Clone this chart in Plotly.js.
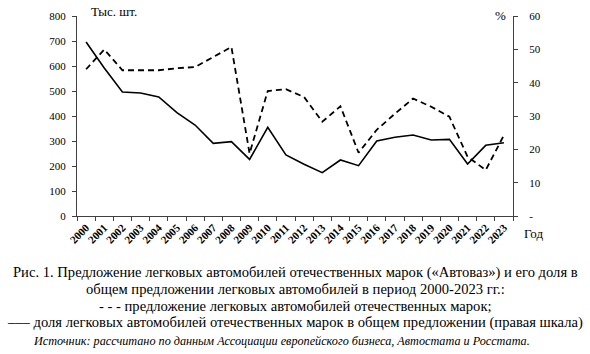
<!DOCTYPE html>
<html>
<head>
<meta charset="utf-8">
<script src="https://cdn.plot.ly/plotly-3.0.1.min.js"></script>
<style>html,body{margin:0;padding:0;background:#fff}</style>
</head>
<body>
<div id="chart"></div>
<script>
const years = ['2000','2001','2002','2003','2004','2005','2006','2007','2008','2009','2010','2011','2012','2013','2014','2015','2016','2017','2018','2019','2020','2021','2022','2023'];
// supply of domestic-brand cars, thousand units (left axis, dashed)
const supply = [587,666,583,582,583,591,596,636,676,250,500,507,476,377,439,253,345,409,470,437,397,237,184,323];
// share in total supply, % (right axis, solid)
const share = [52.2,44.4,37.2,36.9,35.7,31.0,27.3,21.8,22.3,17.0,26.6,18.3,15.5,13.0,16.8,15.1,22.5,23.6,24.3,22.8,23.0,15.6,21.2,22.0];
const leftTicks = [0,100,200,300,400,500,600,700,800];
const rightTicks = [0,10,20,30,40,50,60];
const rightTickText = ['-','10','20','30','40','50','60'];
const captionLines = [
  'Рис. 1. Предложение легковых автомобилей отечественных марок («Автоваз») и его доля в',
  'общем предложении легковых автомобилей в период 2000-2023 гг.:',
  '- - - предложение легковых автомобилей отечественных марок;',
  '––– доля легковых автомобилей отечественных марок в общем предложении (правая шкала)'
];
const sourceLine = 'Источник: рассчитано по данным Ассоциации европейского бизнеса, Автостата и Росстата.';

const F = 'Liberation Serif';
const axisCol = '#404040';

const traces = [
  {x: years, y: supply, type: 'scatter', mode: 'lines', yaxis: 'y',
   line: {color: '#000', width: 1.8, dash: '6px,4px'}, hoverinfo: 'none'},
  {x: years, y: share, type: 'scatter', mode: 'lines', yaxis: 'y2',
   line: {color: '#000', width: 1.6}, hoverinfo: 'none'}
];

const px = v => (v - 77) / 436;
const py = v => (216 - v) / 200;
const ann = [
  {text: 'Тыс. шт.', xref: 'paper', yref: 'paper', x: px(89), y: py(11), xanchor: 'left', yanchor: 'middle', showarrow: false, font: {family: F, size: 13}},
  {text: '%', xref: 'paper', yref: 'paper', x: px(500), y: py(15), xanchor: 'center', yanchor: 'middle', showarrow: false, font: {family: F, size: 13}},
  {text: 'Год', xref: 'paper', yref: 'paper', x: px(522), y: py(233), xanchor: 'left', yanchor: 'middle', showarrow: false, font: {family: F, size: 13}}
];
const capY = [272, 289, 305.5, 322];
captionLines.forEach((t, i) => {
  ann.push({text: t, xref: 'paper', yref: 'paper', x: px(295), y: py(capY[i]),
    xanchor: 'center', yanchor: 'middle', showarrow: false, font: {family: F, size: 14.6}});
});
ann.push({text: '<i>' + sourceLine + '</i>', xref: 'paper', yref: 'paper', x: px(281), y: py(341),
  xanchor: 'center', yanchor: 'middle', showarrow: false, font: {family: F, size: 12.2}});

const layout = {
  width: 590, height: 354,
  margin: {l: 77, r: 77, t: 16, b: 138, pad: 0},
  paper_bgcolor: '#fff', plot_bgcolor: '#fff',
  showlegend: false,
  font: {family: F, color: '#000'},
  xaxis: {type: 'category', range: [-0.5, 23.5], tickson: 'boundaries', ticks: 'outside', ticklen: 4,
    tickcolor: axisCol, showline: true, linecolor: axisCol, linewidth: 1.2, showgrid: false, zeroline: false,
    tickangle: -45, tickfont: {family: F, size: 11, weight: 'bold'}, fixedrange: true},
  yaxis: {range: [0, 800], tickvals: leftTicks, ticks: 'outside', ticklen: 4, tickcolor: axisCol,
    showline: true, linecolor: axisCol, linewidth: 1.2, showgrid: false, zeroline: false,
    tickfont: {family: F, size: 11}, ticklabelstandoff: 4},
  yaxis2: {range: [0, 60], overlaying: 'y', side: 'right', tickvals: rightTicks, ticktext: rightTickText,
    ticks: 'outside', ticklen: 4, tickcolor: axisCol, showline: true, linecolor: axisCol, linewidth: 1.2,
    showgrid: false, zeroline: false, tickfont: {family: F, size: 11}, ticklabelstandoff: 9},
  annotations: ann
};
Plotly.newPlot('chart', traces, layout, {displayModeBar: false});
</script>
</body>
</html>
